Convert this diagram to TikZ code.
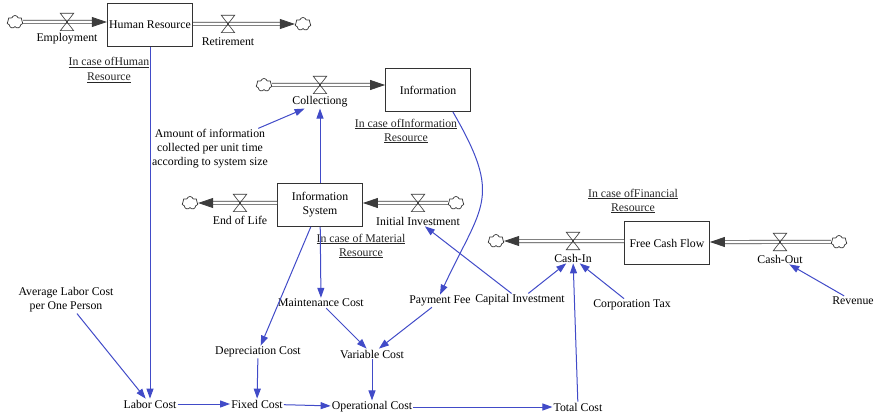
\documentclass[tikz,border=0pt]{standalone}
\usepackage{fontspec}
\setmainfont{Liberation Serif}
\usetikzlibrary{arrows.meta,shapes.symbols}
\definecolor{linkblue}{RGB}{65,75,200}
\definecolor{pipegray}{RGB}{60,60,60}
\begin{document}
\begin{tikzpicture}[x=1pt,y=-1pt,
  font=\rmfamily\fontsize{11.8}{14}\selectfont,
  every node/.style={inner sep=1pt},
  stockbox/.style={draw=black!80, line width=0.8pt, minimum width=85pt, minimum height=43pt, align=center, inner sep=2pt},
  auxvar/.style={align=center},
  notetext/.style={align=center, text=black!85},
  cloudsrc/.style={cloud, cloud puffs=7, draw=black!80, line width=0.7pt, minimum width=16pt, minimum height=13pt, inner sep=0pt, aspect=1.4},
  valvebox/.style={minimum width=13pt, minimum height=17pt, inner sep=0pt},
  valveshape/.style={draw=black!80, line width=0.6pt},
  pipeflow/.style={draw=pipegray, line width=0.7pt, double=white, double distance=2.6pt, -{Triangle[length=15pt,width=10pt]}},
  infolink/.style={draw=linkblue, line width=1pt, -{Triangle[length=10pt,width=7pt]}},
]
\useasboundingbox (0,0) rectangle (887,417);

% stocks
\node[stockbox] (hr)   at (150,25)  {Human Resource};
\node[stockbox] (info) at (428,90)  {Information};
\node[stockbox] (isys) at (320,205) {Information\\System};
\node[stockbox] (fcf)  at (667,243) {Free Cash Flow};

% sources and sinks
\node[cloudsrc] (cE)  at (15,22)  {};
\node[cloudsrc] (cR)  at (303,24) {};
\node[cloudsrc] (cC)  at (264,85) {};
\node[cloudsrc] (cL)  at (190,203) {};
\node[cloudsrc] (cI)  at (456,203) {};
\node[cloudsrc] (cCI) at (496,241) {};
\node[cloudsrc] (cCO) at (839,242) {};

% flow pipes
\draw[pipeflow] (cE) -- (cE -| hr.west);
\draw[pipeflow] (hr.east |- cR) -- (cR);
\draw[pipeflow] (cC) -- (cC -| info.west);
\draw[pipeflow] (isys.west |- cL) -- (cL);
\draw[pipeflow] (cI) -- (cI -| isys.east);
\draw[pipeflow] (fcf.west |- cCI) -- (cCI);
\draw[pipeflow] (cCO) -- (cCO -| fcf.east);

% valves
\node[valvebox] (vE)  at (67,22)   {};
\node[valvebox] (vR)  at (228,24)  {};
\node[valvebox] (vC)  at (320,85)  {};
\node[valvebox] (vL)  at (240,203) {};
\node[valvebox] (vI)  at (418,203) {};
\node[valvebox] (vCI) at (573,241) {};
\node[valvebox] (vCO) at (780,242) {};
\foreach \v in {vE,vR,vC,vL,vI,vCI,vCO}
  \draw[valveshape] (\v.north west) -- (\v.north east) -- (\v.south west) -- (\v.south east) -- cycle;

% flow labels
\node (lE)  at (67,39)   {Employment};
\node (lR)  at (228,42)  {Retirement};
\node (lC)  at (320,102) {Collectiong};
\node (lL)  at (240,220) {End of Life};
\node (lI)  at (418,221) {Initial Investment};
\node (lCI) at (573,258) {Cash-In};
\node (lCO) at (780,259) {Cash-Out};

% resource notes
\node[notetext] (nHR)   at (109,70)  {\underline{In case ofHuman}\\[1pt]\underline{Resource}};
\node[notetext] (nInfo) at (406,131) {\underline{In case ofInformation}\\\underline{Resource}};
\node[notetext] (nMat)  at (361,246) {\underline{In case of Material}\\\underline{Resource}};
\node[notetext] (nFin)  at (633,201) {\underline{In case ofFinancial}\\\underline{Resource}};

% auxiliary variables
\node[auxvar] (amt)    at (210,149) {Amount of information\\collected per unit time\\according to system size};
\node[auxvar] (avg)    at (66,300)  {Average Labor Cost\\per One Person};
\node[auxvar] (labor)  at (150,404) {Labor Cost};
\node[auxvar] (fixed)  at (257,404) {Fixed Cost};
\node[auxvar] (opc)    at (372,407) {Operational Cost};
\node[auxvar] (total)  at (578,407) {Total Cost};
\node[auxvar] (dep)    at (258,352) {Depreciation Cost};
\node[auxvar] (varc)   at (372,354) {Variable Cost};
\node[auxvar] (maint)  at (321,303) {Maintenance Cost};
\node[auxvar] (pay)    at (440,301) {Payment Fee};
\node[auxvar] (capinv) at (520,300) {Capital Investment};
\node[auxvar] (corp)   at (632,305) {Corporation Tax};
\node[auxvar] (rev)    at (853,301) {Revenue};

% information links
\draw[infolink] (hr.south -| labor.north) -- (labor.north);
\draw[infolink] (avg) -- (labor);
\draw[infolink] (labor) -- (fixed);
\draw[infolink] (fixed) -- (opc);
\draw[infolink] (opc) -- (total);
\draw[infolink] (dep) -- (fixed);
\draw[infolink] (varc) -- (opc);
\draw[infolink] (maint) -- (varc);
\draw[infolink] (pay) -- (varc);
\draw[infolink] (isys) -- (maint);
\draw[infolink] (isys) -- (dep);
\draw[infolink] (isys) -- (lC);
\draw[infolink] (amt) -- (lC);
\draw[infolink] ([xshift=-18pt]info.south east) to[out=-60, in=65, looseness=1.4] (pay.north);
\draw[infolink] (capinv) -- (lI);
\draw[infolink] (capinv) -- (lCI);
\draw[infolink] (corp) -- (lCI);
\draw[infolink] (total) -- (lCI);
\draw[infolink] (rev) -- (lCO);
\end{tikzpicture}
\end{document}
